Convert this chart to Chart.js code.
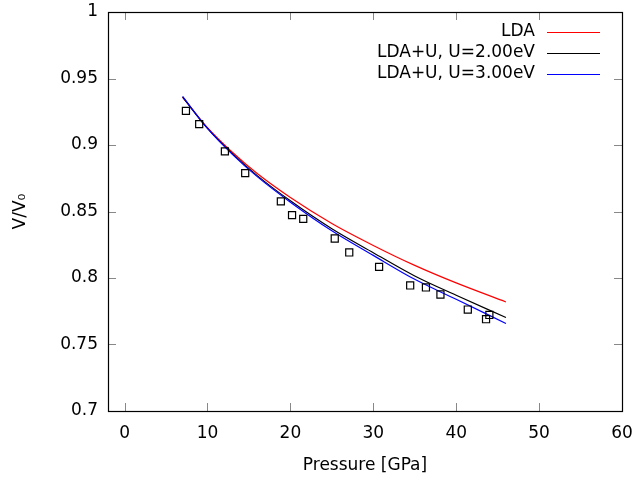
<!DOCTYPE html>
<html>
<head>
<meta charset="utf-8">
<script src="https://cdn.jsdelivr.net/npm/chart.js@4.4.1/dist/chart.umd.min.js"></script>
<style>
  html, body { margin: 0; padding: 0; background: #ffffff; }
  #wrap { width: 639px; height: 480px; }
</style>
</head>
<body>
<div id="wrap"><canvas id="c" width="639" height="480"></canvas></div>
<script>
// ---- data ----
const xTicks = [0, 10, 20, 30, 40, 50, 60];
const yTicks = [0.7, 0.75, 0.8, 0.85, 0.9, 0.95, 1];
const yTickLabels = ['0.7', '0.75', '0.8', '0.85', '0.9', '0.95', '1'];

const seriesNames = ['LDA', 'LDA+U, U=2.00eV', 'LDA+U, U=3.00eV'];

const curvePressure = [7, 10, 13, 16, 20, 25, 30, 35, 40, 46];
const ldaV   = [0.936, 0.913, 0.8945, 0.8785, 0.8605, 0.8410, 0.8245, 0.8095, 0.7963, 0.7820];
const u2V    = [0.936, 0.9125, 0.8935, 0.8770, 0.8580, 0.8370, 0.8190, 0.8015, 0.7870, 0.7703];
const u3V    = [0.9365, 0.9125, 0.8930, 0.8762, 0.8570, 0.8355, 0.8170, 0.7990, 0.7840, 0.7658];

const expPressure = [7.4, 9.0, 12.1, 14.55, 18.85, 20.2, 21.55, 25.35, 27.1, 30.7, 34.45, 36.35, 38.1, 41.4, 43.6, 44.0];
const expV        = [0.9257, 0.9157, 0.8952, 0.8789, 0.8576, 0.8473, 0.8445, 0.8297, 0.8192, 0.8084, 0.7944, 0.7929, 0.7876, 0.7763, 0.7690, 0.7722];

const FONT = 'DejaVu Sans';
const FS = 17;

function pts(xs, ys) { return xs.map((x, i) => ({ x: x, y: ys[i] })); }

// inside tick marks on all four borders, plus legend drawn gnuplot style
const gnuplotDeco = {
  id: 'gnuplotDeco',
  afterDraw(chart) {
    const ctx = chart.ctx;
    const a = chart.chartArea;
    const xs = chart.scales.x, ys = chart.scales.y;
    const L = 8;
    ctx.save();
    ctx.strokeStyle = '#888888';
    ctx.lineWidth = 1;
    ctx.beginPath();
    xTicks.forEach(v => {
      const px = Math.round(xs.getPixelForValue(v)) + 0.5;
      ctx.moveTo(px, a.bottom); ctx.lineTo(px, a.bottom - L);
      ctx.moveTo(px, a.top); ctx.lineTo(px, a.top + L);
    });
    yTicks.forEach(v => {
      const py = Math.round(ys.getPixelForValue(v)) + 0.5;
      ctx.moveTo(a.left, py); ctx.lineTo(a.left + L, py);
      ctx.moveTo(a.right, py); ctx.lineTo(a.right - L, py);
    });
    ctx.stroke();
    // border
    ctx.strokeStyle = '#000000';
    ctx.lineWidth = 1.2;
    ctx.strokeRect(Math.round(a.left) + 0.5, Math.round(a.top) + 0.5,
                   Math.round(a.right - a.left), Math.round(a.bottom - a.top));
    // legend (text right-aligned, sample line on the right)
    ctx.font = FS + 'px "' + FONT + '"';
    ctx.textAlign = 'right';
    ctx.textBaseline = 'middle';
    const textRight = a.right - 87;
    const lineX0 = a.right - 75, lineX1 = a.right - 22;
    const rowY0 = a.top + 20, rowH = 21;
    chart.data.datasets.slice(0, 3).forEach((ds, i) => {
      const y = rowY0 + i * rowH;
      ctx.fillStyle = '#000000';
      ctx.fillText(ds.label, textRight, y);
      ctx.strokeStyle = ds.borderColor;
      ctx.lineWidth = 1.2;
      ctx.beginPath();
      ctx.moveTo(lineX0, Math.round(y) + 0.5);
      ctx.lineTo(lineX1, Math.round(y) + 0.5);
      ctx.stroke();
    });
    ctx.restore();
  }
};

new Chart(document.getElementById('c'), {
  type: 'scatter',
  data: {
    datasets: [
      { label: seriesNames[0], data: pts(curvePressure, ldaV), showLine: true,
        borderColor: '#ff0000', borderWidth: 1.2, pointRadius: 0, tension: 0.4, cubicInterpolationMode: 'monotone', order: 3 },
      { label: seriesNames[1], data: pts(curvePressure, u2V), showLine: true,
        borderColor: '#000000', borderWidth: 1.2, pointRadius: 0, tension: 0.4, cubicInterpolationMode: 'monotone', order: 2 },
      { label: seriesNames[2], data: pts(curvePressure, u3V), showLine: true,
        borderColor: '#0000ff', borderWidth: 1.2, pointRadius: 0, tension: 0.4, cubicInterpolationMode: 'monotone', order: 1 },
      { label: 'exp', data: pts(expPressure, expV), showLine: false,
        pointStyle: 'rect', pointRadius: 5, borderColor: '#000000', borderWidth: 1.2,
        backgroundColor: 'rgba(0,0,0,0)', order: 0 }
    ]
  },
  options: {
    responsive: false,
    animation: false,
    events: [],
    layout: { padding: { top: 12, right: 17, left: 0, bottom: 0 } },
    plugins: { legend: { display: false }, tooltip: { enabled: false } },
    scales: {
      x: {
        type: 'linear', min: -2, max: 60,
        afterBuildTicks: s => { s.ticks = xTicks.map(v => ({ value: v })); },
        afterFit: s => { s.height = 69; s.paddingLeft = 0; s.paddingRight = 0; },
        grid: { display: false, drawTicks: false },
        border: { display: false },
        ticks: { color: '#000', padding: 12, font: { family: FONT, size: FS }, callback: v => String(v) },
        title: { display: true, text: 'Pressure [GPa]', color: '#000', font: { family: FONT, size: FS }, padding: { top: 6 } }
      },
      y: {
        type: 'linear', min: 0.7, max: 1,
        afterBuildTicks: s => { s.ticks = yTicks.map(v => ({ value: v })); },
        afterFit: s => { s.width = 108; s.paddingTop = 0; s.paddingBottom = 0; },
        grid: { display: false, drawTicks: false },
        border: { display: false },
        ticks: { color: '#000', padding: 10, font: { family: FONT, size: FS },
                 callback: v => { const i = yTicks.findIndex(t => Math.abs(t - v) < 1e-9); return i >= 0 ? yTickLabels[i] : ''; } },
        title: { display: true, text: 'V/V₀', color: '#000', font: { family: FONT, size: FS }, padding: { top: 10, bottom: 0 } }
      }
    }
  },
  plugins: [gnuplotDeco]
});
</script>
</body>
</html>
